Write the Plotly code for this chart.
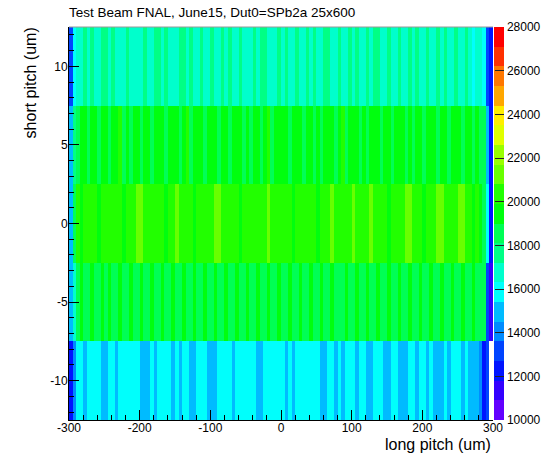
import plotly.graph_objects as go

# ---------------- data ----------------
x_edges = list(range(-300, 301, 5))          # long pitch bin edges (um)
y_edges = [-12.5, -7.5, -2.5, 2.5, 7.5, 12.5]  # short pitch bin edges (um)

row_m10 = [
    12300, 14000, 15700, 15900, 15000, 15800, 16000, 15700, 15900, 15100,
    14900, 15800, 16000, 15000, 15700, 15900, 16100, 15800, 15600, 15900,
    15100, 14800, 15200, 15800, 15000, 15900, 15700, 16000, 15800, 15100,
    15900, 14900, 15700, 15800, 15000, 15200, 15900, 16000, 15700, 14900,
    15100, 15000, 15800, 15900, 15700, 16000, 15000, 15800, 15900, 15600,
    15800, 16000, 15700, 15100, 14900, 15800, 15900, 15700, 16000, 15800,
    15900, 15000, 15700, 15100, 15800, 16000, 15900, 15700, 15800, 16100,
    15900, 15000, 15100, 15800, 15700, 14900, 15900, 15000, 15800, 16000,
    15700, 15100, 15900, 15800, 15000, 14900, 15700, 15900, 15800, 15100,
    15000, 15800, 15900, 15100, 15000, 14900, 15700, 15800, 15100, 15900,
    15800, 15000, 15900, 15100, 14900, 15000, 15800, 15100, 15700, 15900,
    15800, 15000, 15700, 15100, 15000, 14800, 14200, 12400, 13000, 9600,
]
row_m5 = [
    14900, 16700, 18500, 19300, 18600, 18800, 19500, 18400, 18700, 19200,
    18600, 19400, 18500, 18800, 19300, 18700, 18400, 19500, 18600, 18900,
    19300, 18500, 18700, 19400, 18600, 18800, 19200, 18500, 18700, 19500,
    18600, 18400, 19300, 18700, 18800, 19400, 18500, 18600, 19200, 18800,
    18700, 19500, 18600, 18400, 19300, 18800, 18500, 19400, 18700, 18600,
    19200, 18800, 18500, 19300, 18700, 18600, 19400, 18800, 18500, 19200,
    18700, 18600, 19500, 18400, 18800, 19300, 18600, 18700, 19400, 18500,
    18800, 19200, 18600, 18700, 19500, 18500, 18800, 18600, 19300, 18700,
    18500, 19400, 18800, 18600, 19200, 18700, 18500, 19500, 18600, 18800,
    19300, 18700, 18500, 19400, 18600, 18800, 19200, 18500, 18700, 19400,
    18600, 18800, 19300, 18500, 18700, 19500, 18600, 18400, 19200, 18800,
    18700, 19300, 18600, 18800, 19400, 18500, 18700, 18400, 13300, 11300,
]
row_0 = [
    15200, 18400, 20200, 19600, 20400, 20300, 20500, 20200, 19700, 20400,
    20300, 20600, 20200, 20400, 20300, 19600, 20500, 20200, 20400, 21000,
    21300, 20500, 20300, 20200, 20600, 20400, 20300, 19700, 20500, 20200,
    21100, 20400, 20300, 20500, 20200, 19600, 20400, 20600, 20300, 20200,
    20500, 21200, 21000, 20300, 20400, 20200, 20600, 20300, 19700, 20400,
    20200, 20500, 20300, 20400, 20600, 20200, 21000, 20300, 20500, 20400,
    20300, 20200, 20600, 19600, 20400, 20300, 20500, 20200, 20400, 20600,
    19700, 20300, 20500, 20200, 21100, 20400, 20300, 20600, 20200, 20400,
    21000, 20300, 20500, 20200, 20400, 21300, 20300, 20600, 20200, 20400,
    19600, 20300, 20500, 20400, 20200, 21200, 21000, 20300, 20500, 20400,
    19700, 20300, 20600, 20200, 21100, 21300, 20400, 20300, 20500, 20200,
    21200, 21000, 20400, 20300, 19600, 20200, 19500, 18600, 15900, 12300,
]
row_p5 = [
    15100, 17700, 18700, 19400, 19600, 18800, 19300, 19500, 18700, 19400,
    19600, 18800, 19300, 19500, 20000, 18700, 19400, 18900, 19300, 19600,
    18800, 19400, 19700, 18600, 19300, 19500, 19400, 18800, 19600, 19300,
    19500, 18700, 19400, 20100, 18800, 19300, 19600, 19400, 18700, 19500,
    19300, 19600, 18800, 19400, 19500, 18700, 19300, 19700, 19400, 18800,
    19500, 18700, 19400, 19300, 18800, 19600, 20000, 18700, 19400, 19500,
    19300, 19600, 18800, 19400, 19500, 19300, 18700, 19600, 19400, 18800,
    19500, 18700, 19300, 19600, 19400, 18800, 19500, 20100, 18700, 19400,
    19300, 19600, 18800, 19400, 18700, 19500, 19300, 19600, 18800, 19400,
    19500, 18700, 19300, 19600, 19400, 18800, 19500, 18700, 19300, 19600,
    18800, 19400, 19500, 19300, 18700, 19600, 19400, 18800, 19500, 19300,
    19400, 18700, 19600, 19300, 18800, 19400, 18900, 18600, 15000, 12200,
]
row_p10 = [
    13200, 16000, 16800, 16600, 17500, 16900, 17700, 16700, 16900, 17400,
    17600, 16800, 17500, 16600, 16900, 17000, 17700, 16700, 16800, 16500,
    16900, 17400, 16700, 16800, 17600, 17500, 16900, 17800, 16600, 16800,
    16700, 17500, 17600, 16900, 17400, 16800, 16600, 17700, 16900, 16700,
    17500, 16800, 16900, 17600, 16700, 17400, 16800, 16600, 17500, 16900,
    16700, 16800, 17600, 16900, 17500, 17700, 16800, 16600, 16900, 17400,
    16800, 17500, 16700, 16900, 17600, 16800, 16700, 17400, 16900, 17500,
    16600, 16800, 17700, 17500, 16900, 16700, 17600, 16800, 16900, 17400,
    16700, 17500, 16800, 16600, 17600, 16900, 17400, 17700, 16800, 16700,
    17500, 16900, 16700, 17600, 16800, 16600, 17400, 16900, 17500, 16800,
    16700, 17600, 16900, 16800, 17500, 16700, 17400, 16900, 16600, 17500,
    16800, 16900, 17600, 16700, 16100, 16800, 16500, 16000, 13000, 12100,
]

z_min, z_max = 10000, 28000
x_tick_vals = [-300, -200, -100, 0, 100, 200, 300]
x_tick_text = ["-300", "-200", "-100", "0", "100", "200", "300"]
y_tick_vals = [-10, -5, 0, 5, 10]
y_tick_text = ["-10", "-5", "0", "5", "10"]
cb_tick_vals = [10000, 12000, 14000, 16000, 18000, 20000, 22000, 24000, 26000, 28000]
cb_tick_text = ["10000", "12000", "14000", "16000", "18000", "20000", "22000", "24000", "26000", "28000"]

# bins below the palette minimum are left empty (white), like ROOT colz
z = [[v if v >= z_min else None for v in r] for r in [row_m10, row_m5, row_0, row_p5, row_p10]]

# ---------------- ROOT "pretty" palette, 20 contour levels ----------------
def _f(h):
    if h > 360: h -= 360
    if h < 0: h += 360
    if h < 60: return h / 60
    if h < 180: return 1.0
    if h < 240: return (240 - h) / 60
    return 0.0

def hue_rgb(h):
    return "rgb(%d,%d,%d)" % tuple(round(255 * v) for v in (_f(h + 120), _f(h), _f(h - 120)))

palette = [hue_rgb(280 - (i + 1) * 5.6) for i in range(49)] + ["rgb(255,0,0)"]
ncont = 20
colorscale = []
for k in range(ncont):
    c = palette[int((k + 0.99) * len(palette) / ncont)]
    colorscale.append([k / ncont, c])
    colorscale.append([(k + 1) / ncont, c])

FONT = "Liberation Sans, Arial, Helvetica, sans-serif"

fig = go.Figure(go.Heatmap(
    x=x_edges, y=y_edges, z=z,
    zmin=z_min, zmax=z_max, colorscale=colorscale,
    hoverongaps=False,
    colorbar=dict(
        x=1.0, xanchor="left", xpad=1, thickness=10,
        len=1, lenmode="fraction", y=0.5, yanchor="middle", ypad=0,
        outlinewidth=0,
        tickmode="array", tickvals=cb_tick_vals, ticktext=cb_tick_text,
        ticks="inside", ticklen=9, tickcolor="#222", tickwidth=1,
        tickfont=dict(family=FONT, size=12, color="black"),
    ),
))

fig.update_layout(
    width=550, height=453,
    margin=dict(l=69, r=57, t=27, b=33, autoexpand=False),
    paper_bgcolor="white", plot_bgcolor="white",
    showlegend=False,
    font=dict(family=FONT, color="black"),
    annotations=[
        dict(text="Test Beam FNAL, June15, Dut0=SPb2a 25x600", xref="paper", yref="paper",
             x=-0.005, y=1.037, xanchor="left", yanchor="middle", showarrow=False,
             font=dict(family=FONT, size=13.5, color="black")),
        dict(text="long pitch (um)", xref="paper", yref="paper",
             x=1.0, y=-0.0636, xanchor="right", yanchor="middle", showarrow=False,
             font=dict(family=FONT, size=16, color="black")),
        dict(text="short pitch (um)", xref="paper", yref="paper", textangle=-90,
             x=-0.092, y=0.859, xanchor="center", yanchor="middle", showarrow=False,
             font=dict(family=FONT, size=16, color="black")),
    ],
    shapes=[dict(type="line", xref="paper", yref="paper", x0=0, x1=1, y0=1, y1=1,
                 line=dict(color="#999", width=1))],
)

fig.update_xaxes(
    range=[-300, 300], tickmode="array", tickvals=x_tick_vals, ticktext=x_tick_text,
    ticks="inside", ticklen=10, tickcolor="black", tickwidth=1, ticklabelstandoff=-3,
    minor=dict(tickmode="linear", tick0=-300, dtick=20, ticks="inside", ticklen=5, tickcolor="black"),
    showline=True, linecolor="black", linewidth=1, showgrid=False, zeroline=False,
    tickfont=dict(family=FONT, size=12, color="black"),
)
fig.update_yaxes(
    range=[-12.5, 12.5], tickmode="array", tickvals=y_tick_vals, ticktext=y_tick_text,
    ticks="inside", ticklen=10, tickcolor="black", tickwidth=1, ticklabelstandoff=-2,
    minor=dict(tickmode="linear", tick0=-12, dtick=1, ticks="inside", ticklen=5, tickcolor="black"),
    showline=True, linecolor="black", linewidth=1, showgrid=False, zeroline=False,
    tickfont=dict(family=FONT, size=12, color="black"),
)

fig.write_html("out.html")
